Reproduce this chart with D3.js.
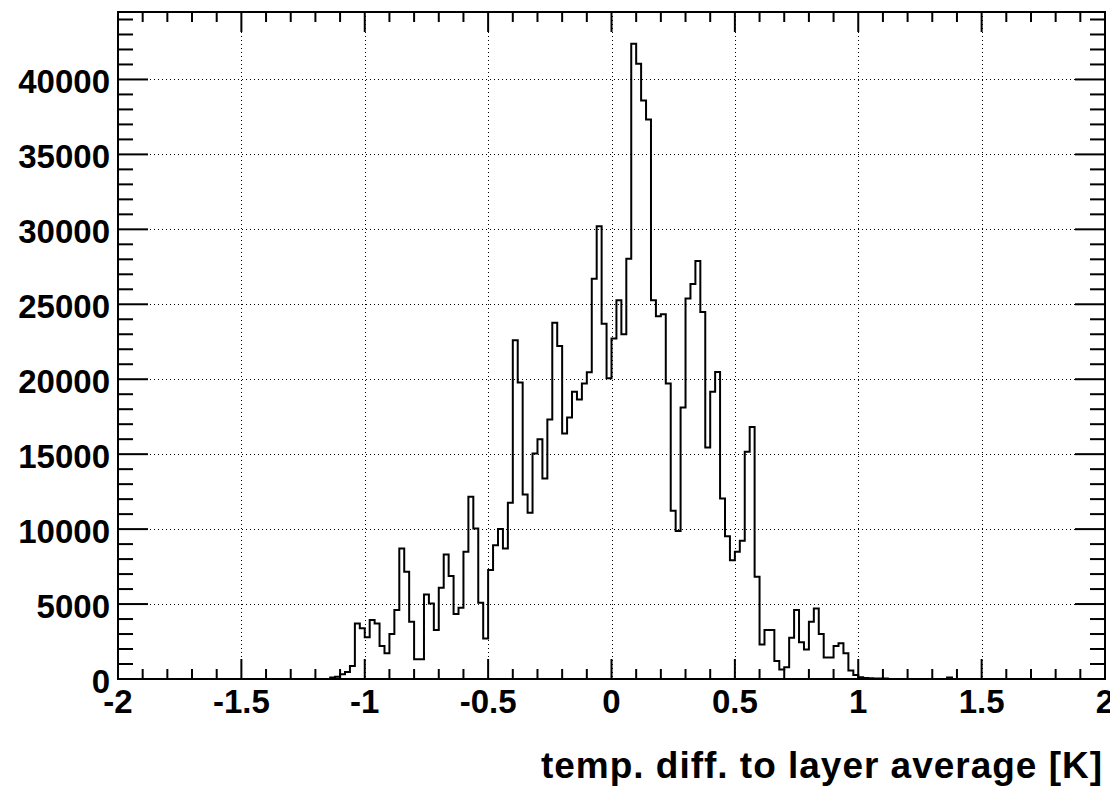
<!DOCTYPE html>
<html>
<head>
<meta charset="utf-8">
<script src="https://cdn.jsdelivr.net/npm/d3@7"></script>
<style>
  html, body { margin: 0; padding: 0; background: #fff; }
  svg { display: block; }
  text { font-family: "Liberation Sans", Arial, Helvetica, sans-serif; font-weight: bold; fill: #000; }
</style>
</head>
<body>
<svg id="chart" width="1110" height="788"></svg>
<script>
// ---------------- data ----------------
const xDomain = [-2, 2];
const binWidth = 0.02;            // 200 bins from -2 to 2
const counts = [
  0,0,0,0,0,0,0,0,0,0,
  0,0,0,0,0,0,0,0,0,0,
  0,0,0,0,0,0,0,0,0,0,
  0,0,0,0,0,0,0,0,0,0,
  0,0,0,100,150,310,470,870,3710,3380,
  2780,3930,3710,2200,1710,3000,4600,8700,7150,3820,
  1310,1310,5640,5040,3270,6090,8310,6870,4330,4760,
  8490,12160,10040,5090,2710,7270,8930,10000,8710,11760,
  22600,19780,12310,11090,15040,16000,13380,17310,23760,22220,
  16380,17440,19160,18640,19710,20470,26710,30200,23700,20070,
  22710,25270,23000,28040,42380,41040,38600,37330,25270,24200,
  24330,19710,11220,9870,18110,25380,26360,27890,24490,15440,
  19160,20490,12040,9530,7930,8490,9220,15160,16820,6820,
  2310,3270,3270,1200,640,780,2760,4600,2460,1960,
  3820,4710,3000,1440,1440,2200,2380,1710,560,270,
  110,60,50,40,40,30,0,0,0,0,
  0,0,0,0,0,0,0,0,100,0,
  0,0,0,0,0,0,0,0,0,0,
  0,0,0,0,0,0,0,0,0,0,
  0,0,0,0,0,0,0,0,0,0
];
const yDomain = [0, 44500];
const xMajorTicks = [-2, -1.5, -1, -0.5, 0, 0.5, 1, 1.5, 2];
const xTickLabels = ["-2", "-1.5", "-1", "-0.5", "0", "0.5", "1", "1.5", "2"];
const xMinorStep = 0.1;
const yMajorTicks = [0, 5000, 10000, 15000, 20000, 25000, 30000, 35000, 40000];
const yTickLabels = ["0", "5000", "10000", "15000", "20000", "25000", "30000", "35000", "40000"];
const yMinorStep = 1000;
const xTitle = "temp. diff. to layer average [K]";

// ---------------- layout ----------------
const frame = { left: 118, right: 1105, top: 12, bottom: 679 };
const svg = d3.select("#chart");

const x = d3.scaleLinear().domain(xDomain).range([frame.left, frame.right]);
const y = d3.scaleLinear().domain(yDomain).range([frame.bottom, frame.top]);

// grid (dotted) at major ticks
const gGrid = svg.append("g").attr("stroke", "#000").attr("stroke-width", 1)
  .attr("stroke-dasharray", "1,3").attr("fill", "none");
xMajorTicks.filter(v => v > xDomain[0] && v < xDomain[1]).forEach(v => {
  const px = Math.round(x(v)) + 0.5;
  gGrid.append("line").attr("x1", px).attr("x2", px).attr("y1", frame.top).attr("y2", frame.bottom);
});
yMajorTicks.filter(v => v > yDomain[0]).forEach(v => {
  const py = Math.round(y(v)) + 0.5;
  gGrid.append("line").attr("x1", frame.left).attr("x2", frame.right).attr("y1", py).attr("y2", py);
});

// histogram outline
const pts = counts.map((c, i) => [xDomain[0] + i * binWidth, c]);
pts.push([xDomain[1], counts[counts.length - 1]]);
const line = d3.line().x(d => x(d[0])).y(d => y(d[1])).curve(d3.curveStepAfter);
svg.append("path").datum(pts).attr("d", line)
  .attr("fill", "none").attr("stroke", "#000").attr("stroke-width", 2)
  .attr("stroke-linejoin", "miter");

// ticks
const gTicks = svg.append("g").attr("stroke", "#000").attr("stroke-width", 2);
const xMinor = d3.range(Math.round((xDomain[1] - xDomain[0]) / xMinorStep) + 1)
  .map(k => xDomain[0] + k * xMinorStep);
xMinor.forEach(v => {
  const isMajor = xMajorTicks.some(m => Math.abs(m - v) < 1e-6);
  const len = isMajor ? 20 : 10;
  const px = x(v);
  gTicks.append("line").attr("x1", px).attr("x2", px).attr("y1", frame.bottom).attr("y2", frame.bottom - len);
  gTicks.append("line").attr("x1", px).attr("x2", px).attr("y1", frame.top).attr("y2", frame.top + len);
});
const yMinor = d3.range(0, yDomain[1] + 1, yMinorStep);
yMinor.forEach(v => {
  const isMajor = yMajorTicks.includes(v);
  const len = isMajor ? 30 : 15;
  const py = y(v);
  gTicks.append("line").attr("x1", frame.left).attr("x2", frame.left + len).attr("y1", py).attr("y2", py);
  gTicks.append("line").attr("x1", frame.right).attr("x2", frame.right - len).attr("y1", py).attr("y2", py);
});

// frame
svg.append("rect")
  .attr("x", frame.left).attr("y", frame.top)
  .attr("width", frame.right - frame.left).attr("height", frame.bottom - frame.top)
  .attr("fill", "none").attr("stroke", "#000").attr("stroke-width", 2);

// tick labels
const gLab = svg.append("g").attr("font-size", 33);
xMajorTicks.forEach((v, i) => {
  gLab.append("text").attr("x", x(v)).attr("y", 713).attr("text-anchor", "middle").text(xTickLabels[i]);
});
yMajorTicks.forEach((v, i) => {
  gLab.append("text").attr("x", 110).attr("y", y(v) + 14).attr("text-anchor", "end").text(yTickLabels[i]);
});

// axis title (right-aligned, spans ~541..1102 as in the reference)
svg.append("text").attr("x", 541).attr("y", 778).attr("text-anchor", "start")
  .attr("font-size", 37).attr("textLength", 561).attr("lengthAdjust", "spacing")
  .text(xTitle);
</script>
</body>
</html>
